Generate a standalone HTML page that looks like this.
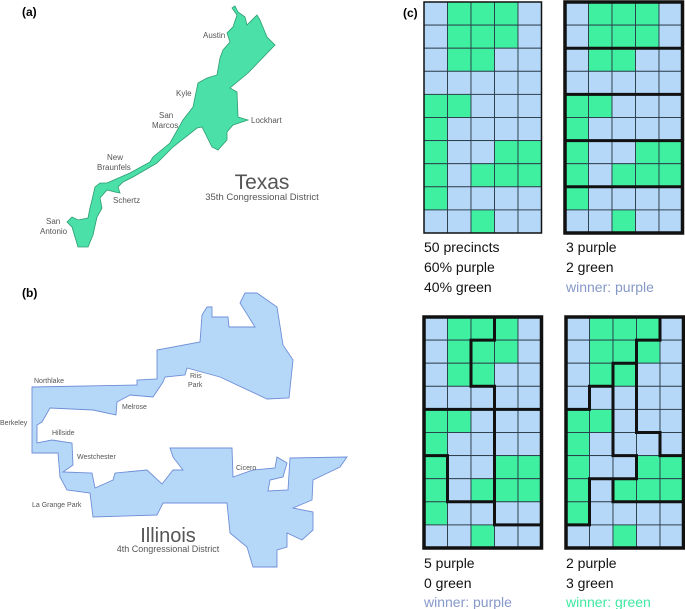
<!DOCTYPE html>
<html><head><meta charset="utf-8"><style>
html,body{margin:0;padding:0;background:#fff;}
body{width:685px;height:609px;position:relative;overflow:hidden;font-family:"Liberation Sans",sans-serif;}
svg{position:absolute;left:0;top:0;}
</style></head><body>
<svg width="685" height="609" viewBox="0 0 685 609">
<g>
<text x="22" y="16" font-size="12" font-weight="bold">(a)</text>
<polygon fill="#4be0a8" stroke="#2c9c72" stroke-width="0.8" points="235,6 238,12 245,17 247,25 257,15 260,20 267,37 275,45 248,73 230,88 237,92 238,117 248,120 233,125 227,132 227,140 218,150 212,147 207,137 202,127 197,128 173,147 157,163 133,177 123,182 118,187 120,193 115,192 107,190 100,198 102,208 97,217 93,235 88,247 78,247 75,237 72,227 67,222 72,217 78,220 88,218 90,208 92,200 95,187 100,183 107,183 130,173 150,162 153,157 170,143 183,120 193,107 198,83 207,78 217,75 220,58 223,50 230,42 227,33 233,27 237,15 232,8"/>
<g font-size="8" fill="#555">
<text x="203" y="38">Austin</text><text x="176" y="96">Kyle</text>
<text x="159" y="118">San</text><text x="152" y="128">Marcos</text>
<text x="251" y="123">Lockhart</text>
<text x="107" y="160">New</text><text x="97" y="170">Braunfels</text>
<text x="113" y="203">Schertz</text>
<text x="46" y="224">San</text><text x="40" y="234">Antonio</text>
</g>
<text x="262" y="189" font-size="21" fill="#555" text-anchor="middle">Texas</text>
<text x="262" y="200" font-size="9.5" fill="#555" text-anchor="middle">35th Congressional District</text>
</g>
<g>
<text x="22" y="297" font-size="12" font-weight="bold">(b)</text>
<polygon fill="#b5d8f8" stroke="#6f8ed8" stroke-width="0.9" points="32,387 137,385 137,380 157,379 157,350 200,342 202,315 207,307 212,307 212,317 228,317 229,327 255,327 240,303 245,293 257,293 277,307 283,345 293,360 289,398 267,399 220,377 187,368 185,375 165,377 163,382 153,397 130,395 117,402 116,415 93,410 50,408 42,422 37,425 37,443 52,440 72,443 73,465 63,472 92,473 95,488 113,480 115,473 147,470 162,484 173,470 183,470 173,457 170,448 232,448 233,477 253,470 275,468 277,457 287,463 283,477 270,480 268,491 288,490 290,458 347,457 340,467 313,480 312,500 293,508 313,512 313,530 302,540 287,533 287,547 277,550 277,567 253,567 247,547 230,533 227,503 163,503 157,515 93,517 90,493 67,490 60,477 58,453 32,453"/>
<g font-size="7" fill="#555">
<text x="34" y="383">Northlake</text><text x="190" y="378">Riis</text><text x="188" y="387">Park</text>
<text x="122" y="409">Melrose</text><text x="0" y="425">Berkeley</text><text x="52" y="435">Hillside</text>
<text x="77" y="459">Westchester</text><text x="236" y="470">Cicero</text><text x="32" y="507">La Grange Park</text>
</g>
<text x="168" y="542" font-size="20" fill="#555" text-anchor="middle">Illinois</text>
<text x="168" y="552" font-size="9" fill="#555" text-anchor="middle">4th Congressional District</text>
</g>
<g id="panelc">
<text x="403" y="17" font-size="12" font-weight="bold">(c)</text>
<g font-size="14" fill="#111">
<text x="424" y="252">50 precincts</text><text x="424" y="272">60% purple</text><text x="424" y="292">40% green</text>
<text x="566" y="252">3 purple</text><text x="566" y="272">2 green</text><text x="566" y="292" fill="#8598c8">winner: purple</text>
<text x="424" y="568">5 purple</text><text x="424" y="588">0 green</text><text x="424" y="607" fill="#8598c8">winner: purple</text>
<text x="566" y="568">2 purple</text><text x="566" y="588">3 green</text><text x="566" y="607" fill="#3fe8a0">winner: green</text>
</g>
</g>
</svg>
<script>
const precinctRows = ["PGGGP","PGGGP","PGGPP","PPPPP","GGPPP","GPPPP","GPPGG","GPGGG","GPPPP","PPGPP"];
const gridOrigins = [[424,2],[565,2],[424,317],[566,317]];
const districtPaths = [
  [],
  ["M0,2H5","M0,4H5","M0,6H5","M0,8H5"],
  ["M3,0V1H2V3H3V9H5","M0,4H5","M0,6H1V8H3"],
  ["M4,0V1H3V5H4V6H5","M3,2H2V3H1V4H0","M2,3V6H3V7H1V9H0","M2,7V8H5"]
];
const NS="http://www.w3.org/2000/svg";
const root=document.getElementById('panelc');
const cw=23.5, ch=23.1;
gridOrigins.forEach((o,gi)=>{
  const g=document.createElementNS(NS,'g');
  
  
  g.setAttribute('transform','translate('+o[0]+','+o[1]+')');
  precinctRows.forEach((row,r)=>{
    for(let c=0;c<row.length;c++){
      const rc=document.createElementNS(NS,'rect');
      
      
      rc.setAttribute('x',c*cw);rc.setAttribute('y',r*ch);
      rc.setAttribute('width',cw);rc.setAttribute('height',ch);
      rc.setAttribute('fill',row[c]==='G'?'#3ef0a0':'#b5d8f8');
      rc.setAttribute('stroke','#2a3a48');rc.setAttribute('stroke-width','0.9');
      g.appendChild(rc);
    }
  });
  const p=document.createElementNS(NS,'g');
  p.setAttribute('transform','scale('+cw+','+ch+')');
  districtPaths[gi].forEach(d=>{
    const pa=document.createElementNS(NS,'path');
    
    
    pa.setAttribute('d',d);pa.setAttribute('fill','none');
    pa.setAttribute('stroke','#111');pa.setAttribute('stroke-width','3');
    pa.setAttribute('vector-effect','non-scaling-stroke');
    p.appendChild(pa);
  });
  g.appendChild(p);
  const ob=document.createElementNS(NS,'rect');
  
  
  ob.setAttribute('x',0);ob.setAttribute('y',0);
  ob.setAttribute('width',cw*5);ob.setAttribute('height',ch*10);
  ob.setAttribute('fill','none');ob.setAttribute('stroke','#111');
  ob.setAttribute('stroke-width',gi===0?'1.5':'3.5');
  g.appendChild(ob);
  root.appendChild(g);
});
</script>
</body></html>
